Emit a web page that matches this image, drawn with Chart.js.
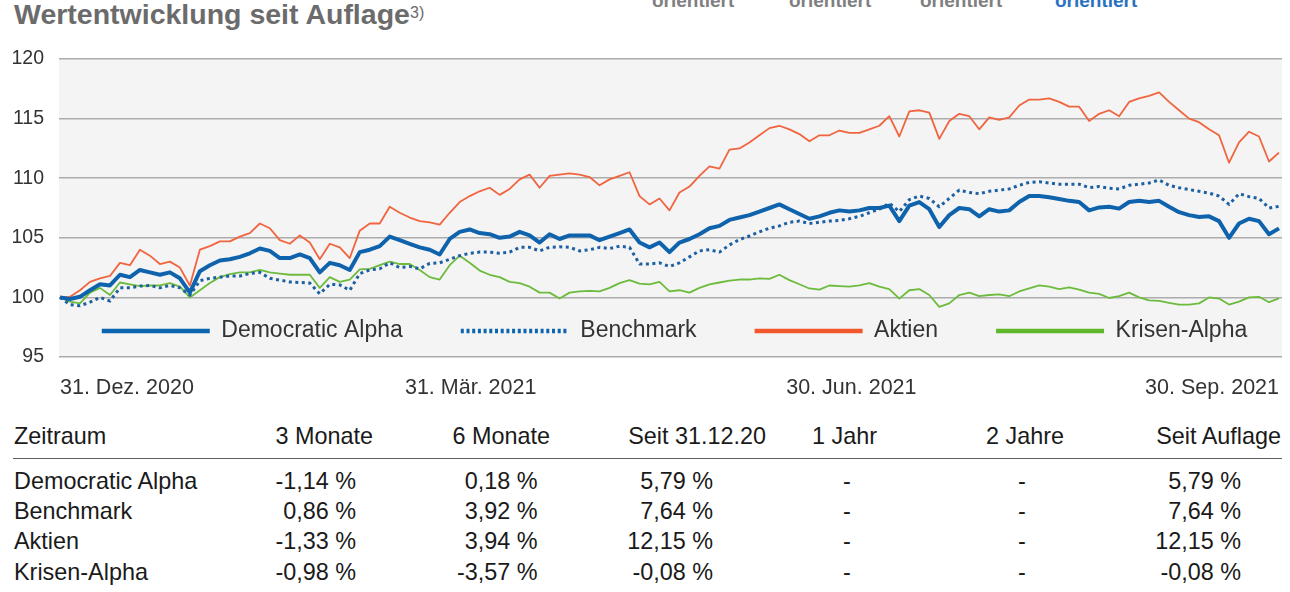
<!DOCTYPE html>
<html>
<head>
<meta charset="utf-8">
<script src="https://cdn.jsdelivr.net/npm/chart.js@4.4.1/dist/chart.umd.min.js"></script>
<style>
html,body{margin:0;padding:0;background:#fff;}
body{width:1290px;height:592px;position:relative;overflow:hidden;font-family:'Liberation Sans',Arial,sans-serif;}
.t{position:absolute;white-space:nowrap;}
#title{left:14px;top:0;font-size:28.5px;line-height:28px;font-weight:bold;color:#6b6b6b;}
#sup{left:410px;top:5px;font-size:16px;line-height:16px;color:#6b6b6b;}
.ori{top:-9px;font-size:19px;line-height:19px;font-weight:bold;color:#808080;}
#wrap{position:absolute;left:0;top:0;width:1290px;height:410px;}
.tb{font-size:23.4px;line-height:23px;color:#1a1a1a;}
#hline{position:absolute;left:13px;top:458px;width:1269px;height:1px;background:#5e5e5e;}
</style>
</head>
<body>
<div class="t" id="title">Wertentwicklung seit Auflage</div>
<div class="t" id="sup">3)</div>
<div class="t ori" style="left:652px">orientiert</div>
<div class="t ori" style="left:789px">orientiert</div>
<div class="t ori" style="left:920px">orientiert</div>
<div class="t ori" style="left:1055px;color:#2a72c0">orientiert</div>
<div id="wrap"><canvas id="c"></canvas></div>
<div id="hline"></div>
<div id="table"></div>
<script>
// ---------- data ----------
const seriesNames = ['Democratic Alpha', 'Benchmark', 'Aktien', 'Krisen-Alpha'];

const democraticAlpha = [
 100.0, 99.86, 100.05, 100.6, 101.1, 101.0, 101.9, 101.7, 102.3, 102.1,
 101.9, 102.1, 101.6, 100.4, 102.2, 102.7, 103.1, 103.2, 103.4, 103.7,
 104.1, 103.9, 103.3, 103.3, 103.6, 103.3, 102.1, 102.9, 102.7, 102.3,
 103.8, 104.0, 104.3, 105.1, 104.8, 104.5, 104.2, 104.0, 103.6, 104.9,
 105.5, 105.7, 105.4, 105.3, 105.0, 105.1, 105.5, 105.2, 104.6, 105.3,
 104.9, 105.2, 105.2, 105.2, 104.8, 105.1, 105.4, 105.7, 104.6, 104.2,
 104.6, 103.8, 104.6, 104.9, 105.3, 105.8, 106.0, 106.5, 106.7, 106.9,
 107.2, 107.5, 107.8, 107.4, 107.0, 106.6, 106.8, 107.1, 107.3, 107.2,
 107.3, 107.5, 107.5, 107.7, 106.4, 107.7, 108.0, 107.4, 105.9, 106.9,
 107.5, 107.4, 106.8, 107.4, 107.2, 107.3, 108.0, 108.5, 108.5, 108.4,
 108.25, 108.1, 108.0, 107.3, 107.55, 107.6, 107.45, 108.0, 108.1, 108.0,
 108.1, 107.6, 107.15, 106.9, 106.75, 106.8, 106.4, 105.0, 106.2, 106.6,
 106.4, 105.3, 105.79];

const benchmark = [
 100.0, 99.4, 99.3, 99.6, 100.0, 99.7, 100.8, 100.8, 100.95, 101.0,
 100.8, 101.0, 100.8, 100.2, 101.4, 101.6, 101.7, 101.8, 101.8, 102.0,
 102.1, 101.6, 101.45, 101.3, 101.25, 101.2, 100.3, 101.1, 101.05, 100.6,
 102.0, 102.3, 102.4, 102.9, 102.5, 102.6, 102.4, 102.85, 102.9, 103.2,
 103.5, 103.7, 103.8, 103.8, 103.7, 103.8, 104.2, 104.2, 103.9, 104.2,
 104.25, 104.2, 103.9, 104.0, 104.2, 104.1, 104.3, 104.2, 102.8, 102.8,
 102.9, 102.6, 102.9, 103.4, 103.9, 104.0, 103.8, 104.4, 104.85, 105.15,
 105.5, 105.8, 106.0, 106.3, 106.4, 106.2, 106.3, 106.4, 106.45, 106.6,
 106.8, 107.1, 107.4, 107.9, 107.2, 108.2, 108.5, 108.3, 107.6, 108.3,
 109.0, 108.8, 108.7, 108.9, 109.0, 109.1, 109.4, 109.65, 109.7, 109.6,
 109.5, 109.5, 109.5, 109.2, 109.3, 109.15, 109.1, 109.4, 109.5, 109.6,
 109.85, 109.4, 109.2, 109.05, 108.9, 108.75, 108.5, 107.8, 108.7, 108.45,
 108.3, 107.5, 107.64];

const aktien = [
 100.0, 100.05, 100.6, 101.3, 101.6, 101.8, 102.9, 102.7, 104.0, 103.5,
 102.8, 103.0, 102.5, 101.0, 104.0, 104.3, 104.7, 104.7, 105.1, 105.4,
 106.2, 105.8, 104.8, 104.5, 105.2, 104.6, 103.2, 104.5, 104.2, 103.3,
 105.6, 106.2, 106.2, 107.6, 107.1, 106.7, 106.4, 106.3, 106.1, 107.1,
 108.0, 108.5, 108.9, 109.2, 108.6, 109.1, 109.9, 110.3, 109.2, 110.2,
 110.3, 110.4, 110.3, 110.1, 109.4, 109.9, 110.2, 110.5, 108.5, 107.8,
 108.3, 107.3, 108.8, 109.3, 110.2, 111.0, 110.8, 112.4, 112.5, 113.0,
 113.6, 114.2, 114.4, 114.1, 113.7, 113.1, 113.6, 113.6, 114.0, 113.8,
 113.8, 114.1, 114.4, 115.2, 113.5, 115.6, 115.7, 115.5, 113.3, 114.8,
 115.4, 115.2, 114.1, 115.1, 114.9, 115.1, 116.1, 116.6, 116.6, 116.7,
 116.4, 116.0, 116.0, 114.8, 115.4, 115.7, 115.2, 116.4, 116.7, 116.9,
 117.2, 116.4, 115.7, 115.0, 114.7, 114.1, 113.6, 111.3, 113.0, 113.9,
 113.5, 111.4, 112.15];

const krisenAlpha = [
 100.0, 99.65, 99.5, 100.4, 100.8, 100.2, 101.25, 101.1, 100.95, 101.0,
 101.0, 101.2, 100.9, 100.0, 100.6, 101.2, 101.7, 101.95, 102.1, 102.1,
 102.3, 102.1, 102.0, 101.9, 101.9, 101.9, 100.8, 101.7, 101.3, 101.5,
 102.35, 102.4, 102.7, 103.0, 102.8, 102.8, 102.3, 101.7, 101.5, 102.7,
 103.5, 102.9, 102.25, 101.9, 101.7, 101.3, 101.2, 100.9, 100.4, 100.4,
 99.9, 100.4, 100.5, 100.55, 100.5, 100.8, 101.2, 101.45, 101.15, 101.1,
 101.3, 100.5, 100.6, 100.4, 100.8, 101.1, 101.25, 101.4, 101.5, 101.5,
 101.6, 101.55, 101.9, 101.45, 101.1, 100.75, 100.65, 101.0, 100.95, 100.9,
 101.0, 101.2, 100.9, 100.7, 99.9, 100.6, 100.7, 100.2, 99.2, 99.5,
 100.2, 100.4, 100.1, 100.2, 100.25, 100.1, 100.5, 100.75, 101.0, 100.9,
 100.7, 100.85, 100.65, 100.4, 100.3, 99.95, 100.1, 100.4, 100.0, 99.75,
 99.7, 99.55, 99.4, 99.4, 99.5, 100.0, 99.9, 99.4, 99.65, 100.0,
 100.05, 99.6, 99.92];

const xTickPositions = [0, 41.1, 79.2, 122];
const xTickLabels = ['31. Dez. 2020', '31. Mär. 2021', '30. Jun. 2021', '30. Sep. 2021'];
const yTickValues = [95, 100, 105, 110, 115, 120];

// table
const tableHeaders = ['Zeitraum', '3 Monate', '6 Monate', 'Seit 31.12.20', '1 Jahr', '2 Jahre', 'Seit Auflage'];
const perf3M  = ['-1,14 %', '0,86 %', '-1,33 %', '-0,98 %'];
const perf6M  = ['0,18 %', '3,92 %', '3,94 %', '-3,57 %'];
const perfYTD = ['5,79 %', '7,64 %', '12,15 %', '-0,08 %'];
const perf1Y  = ['-', '-', '-', '-'];
const perf2Y  = ['-', '-', '-', '-'];
const perfSI  = ['5,79 %', '7,64 %', '12,15 %', '-0,08 %'];

// ---------- table layout ----------
(function(){
  const cols = [seriesNames, perf3M, perf6M, perfYTD, perf1Y, perf2Y, perfSI];
  const hdrLayout = [['l',14],['r',373],['r',550],['r',766],['l',812],['l',986],['r',1281]];
  const valLayout = [['l',14],['r',356],['r',537.5],['r',713],['c',847],['c',1022],['r',1241]];
  const hdrTop = 424.5;
  const rowTops = [469.8, 500, 530, 560.5];
  const host = document.getElementById('table');
  function put(text, lay, top){
    const d = document.createElement('div');
    d.className = 't tb';
    d.textContent = text;
    d.style.top = top + 'px';
    if (lay[0] === 'l') d.style.left = lay[1] + 'px';
    else if (lay[0] === 'r') { d.style.right = (1290 - lay[1]) + 'px'; d.style.textAlign = 'right'; }
    else { d.style.left = (lay[1] - 40) + 'px'; d.style.width = '80px'; d.style.textAlign = 'center'; }
    host.appendChild(d);
  }
  tableHeaders.forEach((h, j) => put(h, hdrLayout[j], hdrTop));
  for (let r = 0; r < 4; r++) cols.forEach((c, j) => put(c[r], valLayout[j], rowTops[r]));
})();

// ---------- chart ----------
Chart.defaults.font.family = "'Liberation Sans', Arial, sans-serif";
const toPts = arr => arr.map((v, i) => ({x: i, y: v}));
const lineColors = ['#0f63ad', '#1d60a2', '#f0653f', '#6cbb3c'];
const legendColors = ['#0a64b0', '#0a64b0', '#f2582c', '#5fb82c'];

const bgPlugin = {
  id: 'bgArea',
  beforeDraw(chart) {
    const {ctx, chartArea: a} = chart;
    ctx.save();
    ctx.fillStyle = '#f4f4f4';
    ctx.fillRect(a.left, a.top, a.right - a.left, a.bottom - a.top);
    ctx.restore();
  }
};

const LEGEND_CENTER_Y = 331;
const LEGEND_PAD = 58;
const LEGEND_FONT = 23;
const legendInside = {
  id: 'legendInside',
  beforeLayout(chart) {
    const lg = chart.legend;
    if (lg && !lg._patched) {
      const orig = lg.fit.bind(lg);
      lg.fit = function() {
        const mw = this.maxWidth;
        this.maxWidth = 5000;
        orig();
        this.maxWidth = mw;
        this.width = Math.min(this.width, mw);
        this.height = 0;
      };
      lg._patched = true;
    }
  },
  afterLayout(chart) {
    const lg = chart.legend, a = chart.chartArea;
    const h = 2 * LEGEND_PAD + LEGEND_FONT + 4;
    const cx = (a.left + a.right) / 2 + 4;
    lg.left = cx - 700; lg.right = cx + 700; lg.width = 1400;
    lg.top = LEGEND_CENTER_Y - LEGEND_PAD - LEGEND_FONT / 2;
    lg.bottom = lg.top + h; lg.height = h;
  }
};

new Chart(document.getElementById('c'), {
  type: 'line',
  data: {
    datasets: [
      {label: seriesNames[0], data: toPts(democraticAlpha), borderColor: lineColors[0], borderWidth: 4},
      {label: seriesNames[1], data: toPts(benchmark), borderColor: lineColors[1], borderWidth: 3, borderDash: [3, 3.5]},
      {label: seriesNames[2], data: toPts(aktien), borderColor: lineColors[2], borderWidth: 1.8},
      {label: seriesNames[3], data: toPts(krisenAlpha), borderColor: lineColors[3], borderWidth: 1.8}
    ]
  },
  options: {
    responsive: true,
    maintainAspectRatio: false,
    animation: false,
    layout: {padding: {top: 59, left: 0, right: 8, bottom: 3}},
    elements: {point: {radius: 0}, line: {tension: 0, borderJoinStyle: 'round', fill: false}},
    plugins: {
      tooltip: {enabled: false},
      legend: {
        display: true,
        position: 'bottom',
        fullSize: false,
        labels: {
          usePointStyle: true,
          pointStyleWidth: 108,
          padding: LEGEND_PAD,
          color: '#333',
          font: {size: LEGEND_FONT},
          generateLabels: chart => chart.data.datasets.map((ds, i) => ({
            text: ds.label,
            fillStyle: legendColors[i],
            strokeStyle: legendColors[i],
            lineWidth: 4.5,
            lineDash: i === 1 ? [3, 2.7] : [],
            lineCap: 'butt',
            pointStyle: 'line',
            hidden: false,
            datasetIndex: i,
            fontColor: '#333'
          }))
        }
      }
    },
    scales: {
      x: {
        type: 'linear',
        min: -0.1,
        max: 122.3,
        afterBuildTicks: s => { s.ticks = xTickPositions.map(v => ({value: v})); },
        afterFit: s => { s.height = 50; },
        grid: {display: false},
        border: {display: false},
        ticks: {
          autoSkip: false, maxRotation: 0, minRotation: 0, align: 'inner',
          padding: 10, color: '#333', font: {size: 21.5},
          callback: (v, i) => xTickLabels[i]
        }
      },
      y: {
        min: 95,
        max: 120,
        afterBuildTicks: s => { s.ticks = yTickValues.map(v => ({value: v})); },
        afterFit: s => { s.width = 59; },
        grid: {color: '#acacac', lineWidth: 1.5, drawTicks: false},
        border: {display: false},
        ticks: {padding: 15, color: '#333', font: {size: 19.5}}
      }
    }
  },
  plugins: [bgPlugin, legendInside]
});
</script>
</body>
</html>
